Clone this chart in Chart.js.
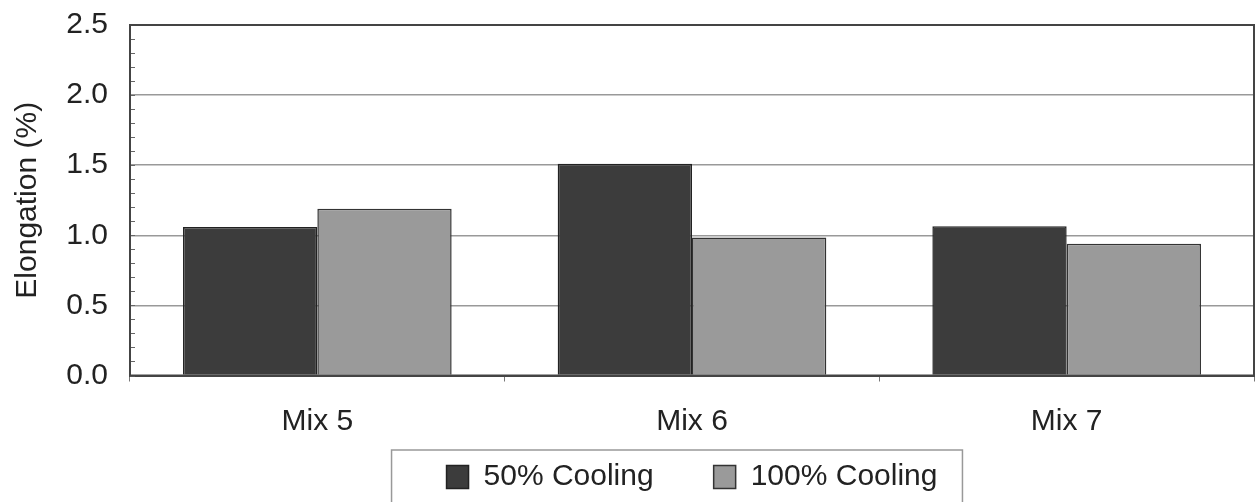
<!DOCTYPE html>
<html>
<head>
<meta charset="utf-8">
<script src="https://cdn.jsdelivr.net/npm/chart.js@4/dist/chart.umd.min.js"></script>
<style>
  html, body { margin: 0; padding: 0; background: #ffffff; }
  #wrap { width: 1256px; height: 502px; }
</style>
</head>
<body>
<div id="wrap"><canvas id="c" width="1256" height="502"></canvas></div>
<script>
const categories = ['Mix 5', 'Mix 6', 'Mix 7'];
const seriesNames = ['50% Cooling', '100% Cooling'];
const cooling50 = [1.06, 1.51, 1.065];
const cooling100 = [1.19, 0.985, 0.94];
const yTicks = [0, 0.5, 1.0, 1.5, 2.0, 2.5];
const yTitle = 'Elongation (%)';

const FONT = "'Liberation Sans', Arial, sans-serif";

const framePlugin = {
  id: 'frame',
  afterDraw(chart) {
    const ctx = chart.ctx;
    const a = chart.chartArea;
    const y = chart.scales.y;
    ctx.save();
    // minor inward ticks on the left axis every 0.1
    ctx.strokeStyle = '#666';
    ctx.lineWidth = 1;
    for (let i = 0; i <= 25; i++) {
      const py = Math.round(y.getPixelForValue(i / 10)) + 0.5;
      ctx.beginPath();
      ctx.moveTo(a.left, py);
      ctx.lineTo(a.left + 5, py);
      ctx.stroke();
    }
    // plot frame
    ctx.strokeStyle = '#444';
    ctx.lineWidth = 2;
    ctx.strokeRect(a.left, a.top, a.right - a.left, a.bottom - a.top);
    // legend border
    const lg = chart.legend;
    if (lg && lg.legendHitBoxes && lg.legendHitBoxes.length) {
      const hb = lg.legendHitBoxes;
      const last = hb[hb.length - 1];
      const l = hb[0].left - 55;
      const r = last.left + last.width + 25;
      const t = hb[0].top - 12;
      ctx.strokeStyle = '#999';
      ctx.lineWidth = 1.5;
      ctx.strokeRect(l, t, r - l, chart.height - t + 10);
    }
    ctx.restore();
  }
};

new Chart(document.getElementById('c'), {
  type: 'bar',
  data: {
    labels: categories,
    datasets: [
      {
        label: seriesNames[0],
        data: cooling50,
        backgroundColor: '#3c3c3c',
        borderColor: '#222222',
        borderWidth: 1.5
      },
      {
        label: seriesNames[1],
        data: cooling100,
        backgroundColor: '#9a9a9a',
        borderColor: '#333333',
        borderWidth: 1.5
      }
    ]
  },
  options: {
    responsive: false,
    animation: false,
    devicePixelRatio: 1,
    layout: { padding: { top: 0, right: 2, left: 0, bottom: 0 } },
    datasets: { bar: { categoryPercentage: 0.717, barPercentage: 1.0 } },
    plugins: {
      tooltip: { enabled: false },
      legend: {
        position: 'bottom',
        fullSize: false,
        labels: {
          font: { family: FONT, size: 30 },
          color: '#222',
          boxWidth: 22,
          boxHeight: 23,
          padding: 60
        }
      }
    },
    scales: {
      x: {
        afterFit(scale) { scale.height = 26.5; },
        grid: {
          drawOnChartArea: false,
          drawTicks: true,
          tickLength: 6,
          color: '#777',
          offset: true
        },
        border: { display: true, color: '#444', width: 2 },
        ticks: {
          font: { family: FONT, size: 30 },
          color: '#222',
          mirror: true,
          padding: -64
        }
      },
      y: {
        min: 0,
        max: 2.5,
        afterBuildTicks(scale) { scale.ticks = yTicks.map(v => ({ value: v })); },
        afterFit(scale) {
          scale.width = 130;
          scale.paddingTop = 25;
          scale.paddingBottom = 0;
        },
        grid: { color: '#999', lineWidth: 1.5, drawTicks: false },
        border: { display: true, color: '#444', width: 2 },
        ticks: {
          font: { family: FONT, size: 30 },
          color: '#222',
          padding: 22,
          callback: v => Number(v).toFixed(1)
        },
        title: {
          display: true,
          text: yTitle,
          font: { family: FONT, size: 30 },
          color: '#222',
          padding: { top: 10, bottom: 0 }
        }
      }
    }
  },
  plugins: [framePlugin]
});
</script>
</body>
</html>
